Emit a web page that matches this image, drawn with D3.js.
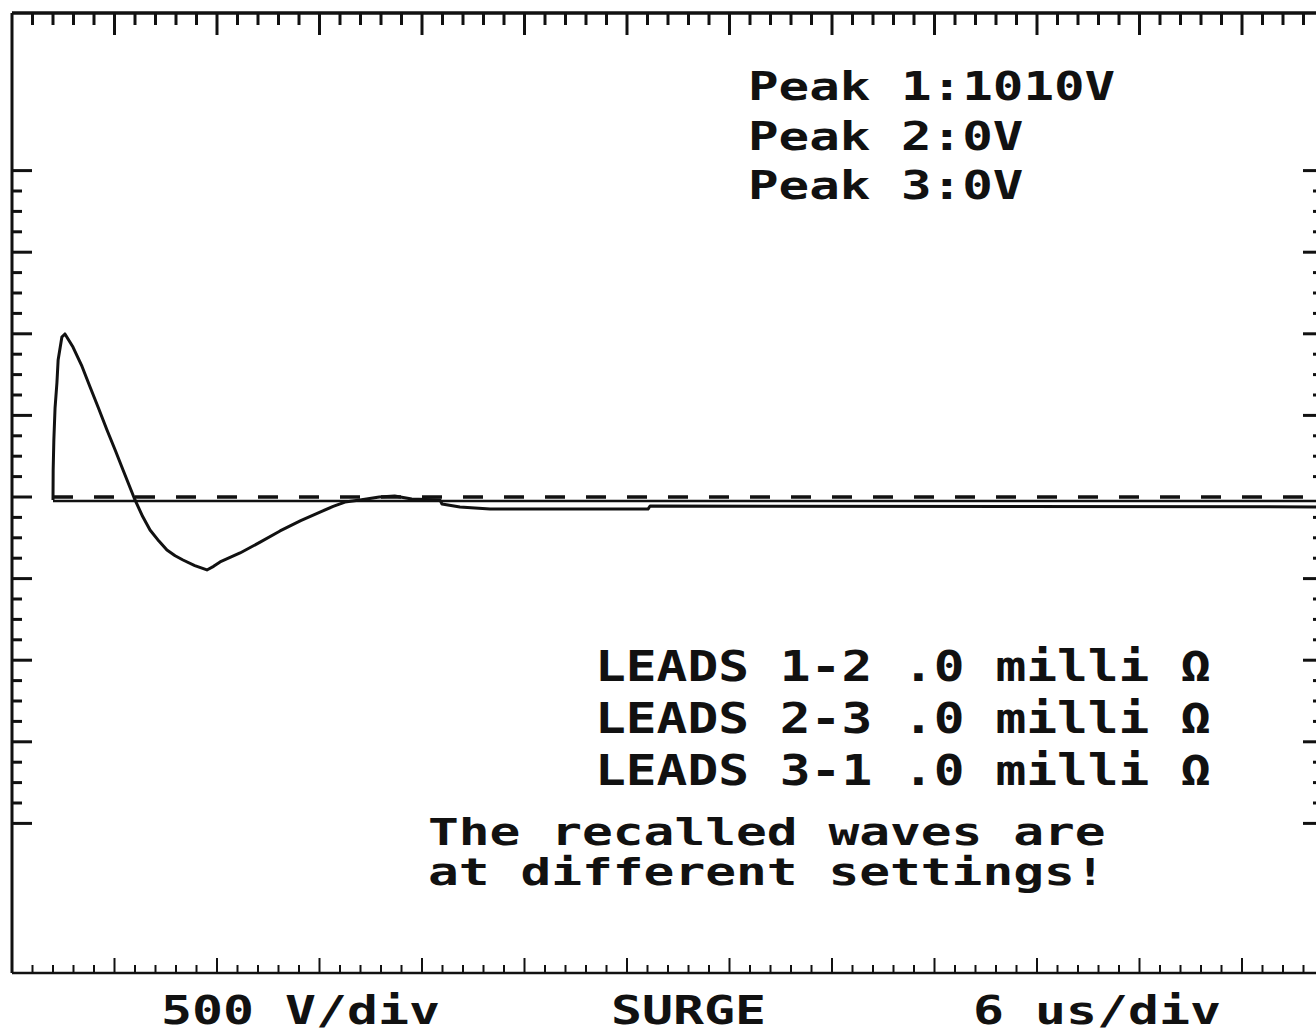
<!DOCTYPE html>
<html>
<head>
<meta charset="utf-8">
<script src="https://cdn.jsdelivr.net/npm/d3@7"></script>
<style>
    body { margin: 0; background: #fff; overflow: hidden; }
    text { font-family: "DejaVu Sans Mono", monospace; font-weight: bold; fill: #111; }
</style>
</head>
<body>
<svg id="scope"></svg>
<script>
// Trace: time in us, amplitude in volts
const traceTime = [2.40, 2.41, 2.45, 2.52, 2.63, 2.70, 2.92, 3.10, 3.57, 4.10, 4.57, 5.06, 5.56, 6.05, 6.50, 7.20,
    7.65, 8.08, 8.60, 9.07, 9.55, 10.01, 10.70, 11.41, 11.80, 12.18, 13.35, 14.50, 15.69, 16.90, 18.03,
    18.80, 19.49, 20.37, 21.50, 22.40, 23.40, 25.05, 25.17, 26.22, 27.98, 37.23, 37.35, 77.0];
const traceVolts = [-18, 165, 350, 545, 700, 839, 980, 999, 919, 800, 674, 545, 411, 285, 165, -18,
    -120, -202, -270, -325, -360, -386, -420, -447, -425, -398, -343, -278, -208, -145, -92,
    -58, -31, -18, 0, 6, -12, -18, -43, -61, -74, -74, -55, -61];

// Reference lines of the other recalled waves
const refStart = 2.40;   // us
const dashedLevel = 0;   // V
const solidLevel = -25;  // V

// Text on the screen
const peakLines = ["Peak 1:1010V", "Peak 2:0V", "Peak 3:0V"];
const leadLines = ["LEADS 1-2 .0 milli Ω", "LEADS 2-3 .0 milli Ω", "LEADS 3-1 .0 milli Ω"];
const noteLines = ["The recalled waves are", "at different settings!"];
const footerLabels = ["500 V/div", "SURGE", "6 us/div"];

// Graticule settings
const usPerDiv = 6;
const voltsPerDiv = 500;
const minorPerDiv = 5;   // time axis
const vMinorPerDiv = 4;  // volt axis

const svg = d3.select('#scope');
const width = 1316;
const height = 1032;
svg.attr('width', width).attr('height', height);

// Screen frame (pixels)
const frame = { left: 12, top: 13, right: 1323, bottom: 973 };
const divW = 102.5;
const divH = 81.6;
const zeroY = 497;

// Scales
const xScale = d3.scaleLinear()
    .domain([0, usPerDiv * 13])
    .range([frame.left, frame.left + divW * 13]);

const yScale = d3.scaleLinear()
    .domain([-4 * voltsPerDiv, 4 * voltsPerDiv])
    .range([zeroY + 4 * divH, zeroY - 4 * divH]);

const ink = '#111';

// Frame border
svg.append('line')
    .attr('x1', frame.left).attr('x2', frame.right)
    .attr('y1', frame.top).attr('y2', frame.top)
    .attr('stroke', ink).attr('stroke-width', 3.5);
svg.append('line')
    .attr('x1', frame.left).attr('x2', frame.left)
    .attr('y1', frame.top).attr('y2', frame.bottom)
    .attr('stroke', ink).attr('stroke-width', 3);
svg.append('line')
    .attr('x1', frame.left).attr('x2', frame.right)
    .attr('y1', frame.bottom).attr('y2', frame.bottom)
    .attr('stroke', ink).attr('stroke-width', 2.5);

// Time ticks along top and bottom
const tStep = usPerDiv / minorPerDiv;
const timeTicks = d3.range(1, 64).map(i => ({ t: i * tStep, major: i % minorPerDiv == 0 }));

svg.append('g').selectAll('line')
    .data(timeTicks)
    .join('line')
    .attr('x1', d => xScale(d.t)).attr('x2', d => xScale(d.t))
    .attr('y1', frame.top)
    .attr('y2', d => frame.top + (d.major ? 22 : 12))
    .attr('stroke', ink).attr('stroke-width', 3);

svg.append('g').selectAll('line')
    .data(timeTicks)
    .join('line')
    .attr('x1', d => xScale(d.t)).attr('x2', d => xScale(d.t))
    .attr('y1', frame.bottom)
    .attr('y2', d => frame.bottom - (d.major ? 15 : 8))
    .attr('stroke', ink).attr('stroke-width', 2);

// Volt ticks along left and right
const vStep = voltsPerDiv / vMinorPerDiv;
const voltTicks = d3.range(-16, 17).map(i => ({ v: i * vStep, major: i % vMinorPerDiv == 0 }));

svg.append('g').selectAll('line')
    .data(voltTicks)
    .join('line')
    .attr('x1', frame.left)
    .attr('x2', d => frame.left + (d.major ? 20 : 10))
    .attr('y1', d => yScale(d.v)).attr('y2', d => yScale(d.v))
    .attr('stroke', ink).attr('stroke-width', 3);

svg.append('g').selectAll('line')
    .data(voltTicks.filter(d => d.v != 0))
    .join('line')
    .attr('x1', frame.right)
    .attr('x2', d => frame.right - (d.major ? 20 : 10))
    .attr('y1', d => yScale(d.v)).attr('y2', d => yScale(d.v))
    .attr('stroke', ink).attr('stroke-width', 3);

// Reference lines
svg.append('line')
    .attr('x1', xScale(refStart)).attr('x2', frame.right)
    .attr('y1', yScale(dashedLevel)).attr('y2', yScale(dashedLevel))
    .attr('stroke', ink).attr('stroke-width', 3.5)
    .attr('stroke-dasharray', '20 21');

svg.append('line')
    .attr('x1', xScale(refStart)).attr('x2', frame.right)
    .attr('y1', yScale(solidLevel)).attr('y2', yScale(solidLevel))
    .attr('stroke', ink).attr('stroke-width', 2.5);

// Surge trace
const trace = traceTime.map((t, i) => ({ t: t, v: traceVolts[i] }));
const line = d3.line()
    .x(d => xScale(d.t))
    .y(d => yScale(d.v));

svg.append('path')
    .datum(trace)
    .attr('fill', 'none')
    .attr('stroke', ink)
    .attr('stroke-width', 3)
    .attr('stroke-linejoin', 'round')
    .attr('d', line);

// Text helper: fixed character pitch like the scope's font
function addText(str, x, y, cap, pitch) {
    svg.append('text')
        .attr('x', x)
        .attr('y', y)
        .attr('font-size', cap / 0.729)
        .attr('textLength', str.length * pitch)
        .attr('lengthAdjust', 'spacingAndGlyphs')
        .text(str);
}

peakLines.forEach((s, i) => addText(s, 748, 100 + i * 49.5, 28, 30.6));
leadLines.forEach((s, i) => addText(s, 595, 681 + i * 52, 31, 30.8));
noteLines.forEach((s, i) => addText(s, 428, 845 + i * 40, 27, 30.8));

const footerX = [161, 611, 973];
footerLabels.forEach((s, i) => addText(s, footerX[i], 1024, 28, 31));
</script>
</body>
</html>
